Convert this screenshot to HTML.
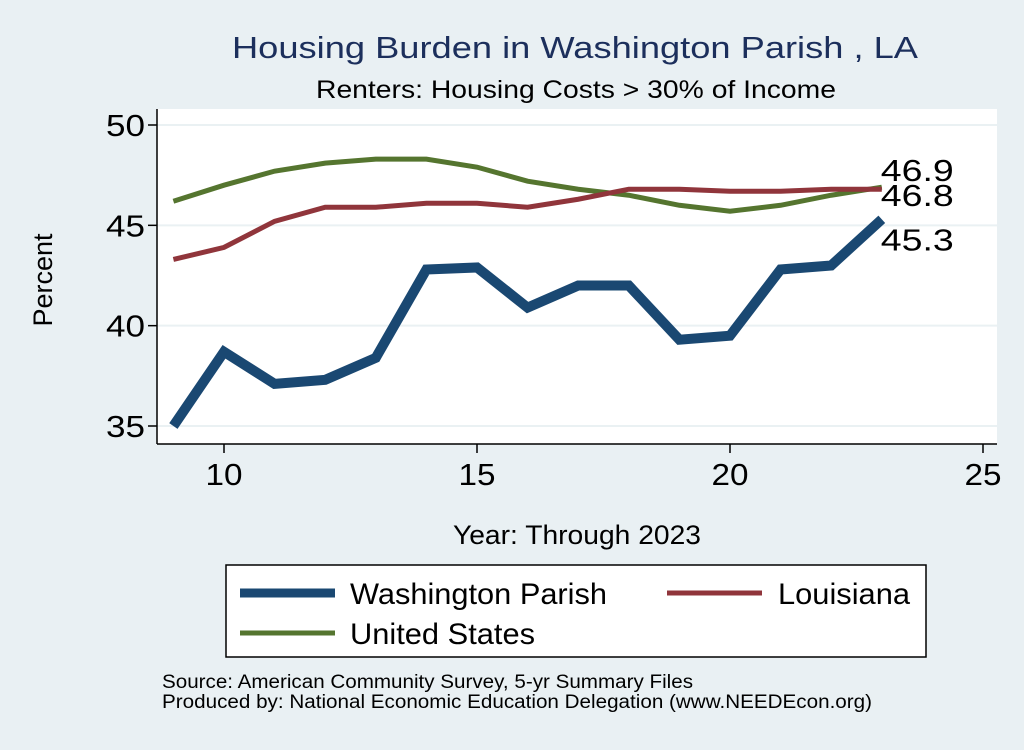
<!DOCTYPE html>
<html><head><meta charset="utf-8"><style>
body{margin:0;width:1024px;height:745px;background:#e9f0f3;font-family:"Liberation Sans",sans-serif;overflow:hidden}
</style></head><body>
<svg id="c" width="1024" height="745" font-family="Liberation Sans, sans-serif">
<rect x="0" y="0" width="1024" height="745" fill="#e9f0f3"/>
<text x="232" y="58" font-size="31" fill="#1c2f5c" textLength="686" lengthAdjust="spacingAndGlyphs">Housing Burden in Washington Parish , LA</text>
<text x="316" y="98" font-size="25" fill="#000" textLength="520" lengthAdjust="spacingAndGlyphs">Renters: Housing Costs &gt; 30% of Income</text>
<rect x="157" y="109" width="840" height="335" fill="#fff"/>
<g id="grid"></g><g id="axes"></g><g id="series"></g>
<text x="52" y="280" font-size="27" text-anchor="middle" transform="rotate(-90 52 280)">Percent</text>
<text x="453" y="544" font-size="27" textLength="248" lengthAdjust="spacingAndGlyphs">Year: Through 2023</text>
<rect x="226" y="565" width="700" height="92" fill="#fff" stroke="#000" stroke-width="1.5"/>
<g><line x1="240" y1="593" x2="335" y2="593" stroke="#1a4872" stroke-width="9"/><text x="350" y="604" font-size="30" textLength="257" lengthAdjust="spacingAndGlyphs">Washington Parish</text></g>
<g><line x1="667" y1="593" x2="762" y2="593" stroke="#90353b" stroke-width="5"/><text x="778" y="604" font-size="30" textLength="132" lengthAdjust="spacingAndGlyphs">Louisiana</text></g>
<g><line x1="240" y1="633" x2="335" y2="633" stroke="#55752f" stroke-width="5"/><text x="350" y="644" font-size="30" textLength="185" lengthAdjust="spacingAndGlyphs">United States</text></g>
<text x="162" y="688" font-size="19" textLength="531" lengthAdjust="spacingAndGlyphs">Source: American Community Survey, 5-yr Summary Files</text>
<text x="162" y="708" font-size="19" textLength="710" lengthAdjust="spacingAndGlyphs">Produced by: National Economic Education Delegation (www.NEEDEcon.org)</text>
</svg>
<script>
const years=[9,10,11,12,13,14,15,16,17,18,19,20,21,22,23];
const washington=[35.0,38.7,37.1,37.3,38.4,42.8,42.9,40.9,42.0,42.0,39.3,39.5,42.8,43.0,45.3];
const louisiana=[43.3,43.9,45.2,45.9,45.9,46.1,46.1,45.9,46.3,46.8,46.8,46.7,46.7,46.8,46.8];
const unitedStates=[46.2,47.0,47.7,48.1,48.3,48.3,47.9,47.2,46.8,46.5,46.0,45.7,46.0,46.5,46.9];
const xTicks=[10,15,20,25];
const yTicks=[35,40,45,50];
const NS="http://www.w3.org/2000/svg";
const xs=v=>224+(v-10)*(983-224)/15;
const ys=v=>426-(v-35)*(426-125)/15;
function mk(tag,attrs,parent){const e=document.createElementNS(NS,tag);for(const k in attrs)e.setAttribute(k,attrs[k]);parent.appendChild(e);return e;}
const grid=document.getElementById('grid'),axes=document.getElementById('axes'),ser=document.getElementById('series');
yTicks.forEach(t=>{
 const g=mk('line',{x1:157,x2:997,y1:ys(t),y2:ys(t),stroke:'#eaf1f3','stroke-width':2},grid);
 
 
 mk('line',{x1:148,x2:157,y1:ys(t),y2:ys(t),stroke:'#000','stroke-width':1.5},axes);
 const l=mk('text',{x:145,y:ys(t)+11,'font-size':31,'text-anchor':'end',textLength:39,lengthAdjust:'spacingAndGlyphs'},axes);l.textContent=t;
 
 
});
xTicks.forEach(t=>{
 mk('line',{x1:xs(t),x2:xs(t),y1:444,y2:453,stroke:'#000','stroke-width':1.5},axes);
 const l=mk('text',{x:xs(t),y:485,'font-size':31,'text-anchor':'middle',textLength:37,lengthAdjust:'spacingAndGlyphs'},axes);l.textContent=t;
 
 
});
mk('line',{x1:157,x2:157,y1:109,y2:444,stroke:'#000','stroke-width':1.5},axes);
mk('line',{x1:157,x2:997,y1:444,y2:444,stroke:'#000','stroke-width':1.5},axes);
function line(data,color,w,name){
 const p=mk('polyline',{points:data.map((v,i)=>xs(years[i])+','+ys(v)).join(' '),fill:'none',stroke:color,'stroke-width':w,'stroke-linejoin':'miter'},ser);
 
 
}
line(unitedStates,'#55752f',5,'line-united-states');
line(louisiana,'#90353b',5,'line-louisiana');
line(washington,'#1a4872',10,'line-washington-parish');
function lab(v,dy,name){const n=years.length-1;const t=mk('text',{x:xs(years[n])-1,y:ys(v)+dy,'font-size':31,textLength:73,lengthAdjust:'spacingAndGlyphs'},ser);t.textContent=v.toFixed(1);
 
 }
lab(unitedStates[unitedStates.length-1],-6,'label-us-last');
lab(louisiana[louisiana.length-1],17,'label-louisiana-last');
lab(washington[washington.length-1],31,'label-washington-last');
</script>
</body></html>
